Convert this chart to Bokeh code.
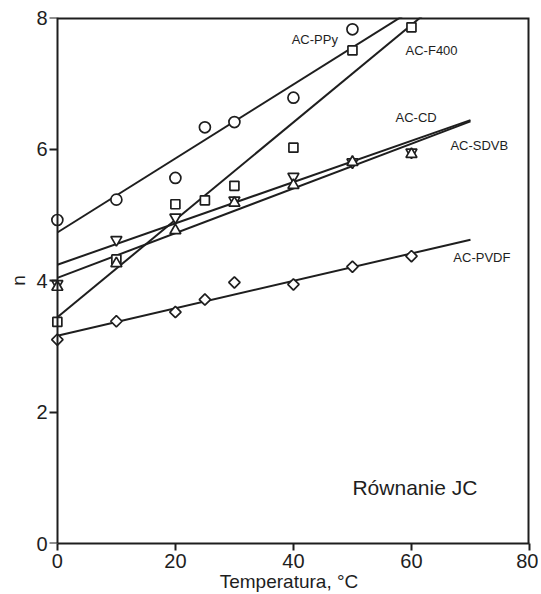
import math
from bokeh.plotting import figure
from bokeh.models import Range1d, Label, FixedTicker, LinearAxis
from bokeh.embed import file_html
from bokeh.resources import INLINE

# Data: temperature (°C) and n values
ppy_T = [0, 10, 20, 25, 30, 40, 50]
ppy_n = [4.92, 5.23, 5.56, 6.33, 6.41, 6.78, 7.82]

f400_T = [0, 10, 20, 25, 30, 40, 50, 60]
f400_n = [3.37, 4.32, 5.16, 5.22, 5.44, 6.02, 7.50, 7.85]

cd_T = [0, 10, 20, 30, 40, 50, 60]
cd_n = [3.95, 4.62, 4.96, 5.22, 5.58, 5.80, 5.95]

sdvb_T = [0, 10, 20, 30, 40, 50, 60]
sdvb_n = [3.90, 4.26, 4.76, 5.18, 5.45, 5.80, 5.92]

pvdf_T = [0, 10, 20, 25, 30, 40, 50, 60]
pvdf_n = [3.10, 3.38, 3.52, 3.71, 3.97, 3.94, 4.21, 4.37]

# Fitted lines (endpoints)
fit_T = [0, 70]
ppy_fit = [4.73, 8.67]
f400_fit = [3.44, 8.63]
cd_fit = [4.24, 6.44]
sdvb_fit = [4.04, 6.42]
pvdf_fit = [3.16, 4.62]

x_ticks = [0, 20, 40, 60, 80]
y_ticks = [0, 2, 4, 6, 8]
X_MIN, X_MAX, Y_MIN, Y_MAX = 0, 80, 0, 8

ink = "#1e1e1e"
pad = 1.5  # small extra room left of x=0 so the markers on the axis are not clipped

p = figure(frame_width=481, frame_height=526, output_backend="svg", toolbar_location=None,
           x_range=Range1d(X_MIN - pad, X_MAX), y_range=Range1d(Y_MIN, Y_MAX),
           min_border_left=48, min_border_right=9, min_border_top=17, min_border_bottom=40)
p.grid.visible = False
p.outline_line_color = None
p.background_fill_color = "white"
p.border_fill_color = "white"

def style(ax):
    ax.axis_line_width = 2
    ax.axis_line_color = ink
    ax.major_tick_line_color = ink
    ax.major_tick_line_width = 2
    ax.major_tick_in = 0
    ax.minor_tick_line_color = None
    ax.major_label_text_font = "Liberation Sans"
    ax.major_label_text_font_size = "20px"
    ax.major_label_text_color = ink
    ax.axis_label_text_font = "Liberation Sans"
    ax.axis_label_text_font_size = "19px"
    ax.axis_label_text_font_style = "normal"
    ax.axis_label_text_color = ink

style(p.xaxis[0])
style(p.yaxis[0])

p.xaxis.bounds = (X_MIN, X_MAX)
p.xaxis.ticker = FixedTicker(ticks=x_ticks)
p.xaxis.axis_label = "Temperatura, °C"
p.xaxis.major_tick_out = 7
p.xaxis.major_label_standoff = 3
p.xaxis.axis_label_standoff = 0

# left axis: labels only (sits at the frame edge)
ylab = p.yaxis[0]
ylab.ticker = FixedTicker(ticks=y_ticks)
ylab.axis_label = "n"
ylab.axis_line_color = None
ylab.major_tick_line_color = None
ylab.major_tick_out = 0
ylab.major_label_standoff = 1
ylab.axis_label_standoff = 4

# axis line and ticks drawn at x = 0
yline = LinearAxis(fixed_location=X_MIN, ticker=FixedTicker(ticks=y_ticks))
style(yline)
yline.major_tick_out = 8
yline.major_label_text_font_size = "1px"
yline.major_label_text_color = None
yline.major_label_standoff = 0
p.add_layout(yline, "left")

# top and right frame edges
p.line([X_MIN, X_MAX, X_MAX], [Y_MAX, Y_MAX, Y_MIN], line_color=ink, line_width=4)

for fit in (ppy_fit, f400_fit, cd_fit, sdvb_fit, pvdf_fit):
    p.line(fit_T, fit, line_color=ink, line_width=2)

mk = dict(fill_color="white", line_color=ink, line_width=1.7)
p.scatter(ppy_T, ppy_n, marker="circle", size=11, **mk)
p.scatter(f400_T, f400_n, marker="square", size=9, **mk)
p.scatter(cd_T, cd_n, marker="inverted_triangle", size=11, **mk)
p.scatter(sdvb_T, sdvb_n, marker="triangle", size=11, **mk)
p.scatter(pvdf_T, pvdf_n, marker="square", angle=math.pi / 4, size=8, **mk)

lab = dict(text_font="Liberation Sans", text_font_size="13px", text_color=ink,
           text_baseline="middle")
p.add_layout(Label(x=39.7, y=7.67, text="AC-PPy", **lab))
p.add_layout(Label(x=59.0, y=7.50, text="AC-F400", **lab))
p.add_layout(Label(x=57.3, y=6.48, text="AC-CD", **lab))
p.add_layout(Label(x=66.6, y=6.05, text="AC-SDVB", **lab))
p.add_layout(Label(x=67.1, y=4.35, text="AC-PVDF", **lab))
p.add_layout(Label(x=50.0, y=0.85, text="Równanie JC", text_font="Liberation Sans",
                   text_font_size="21px", text_color=ink, text_baseline="middle"))

open("out.html", "w").write(file_html(p, INLINE))
